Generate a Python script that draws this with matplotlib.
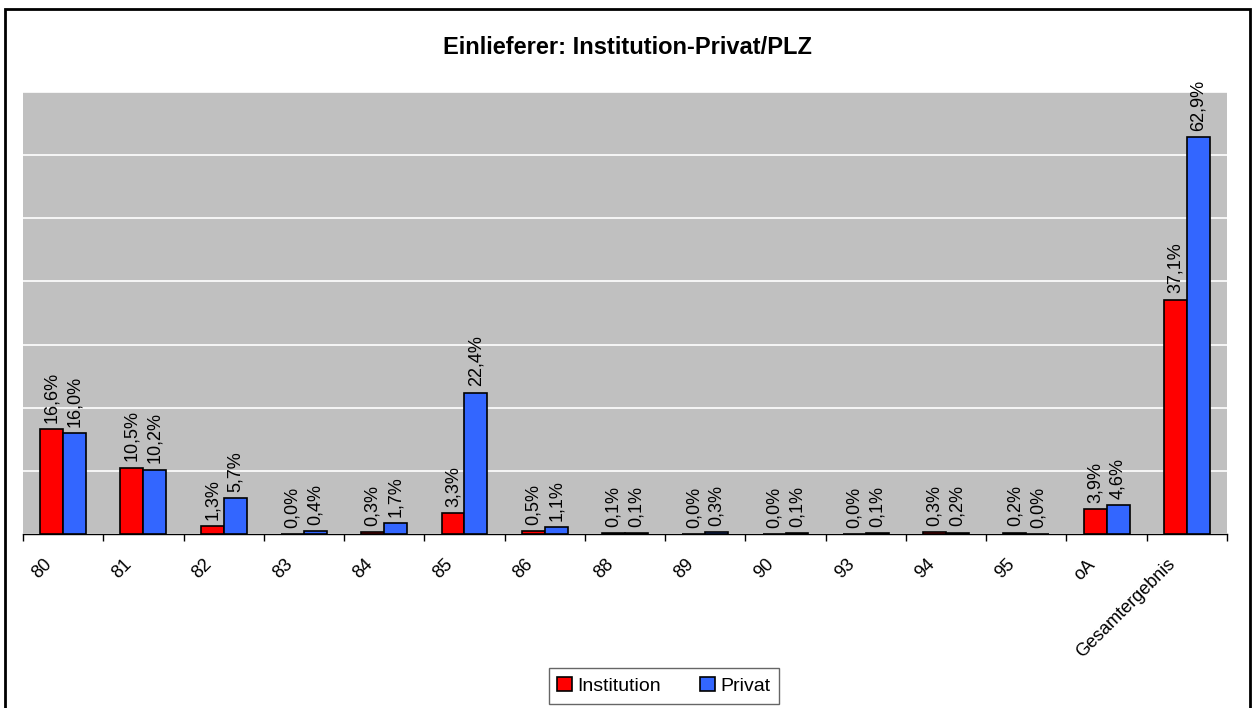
import matplotlib
matplotlib.use("Agg")
import matplotlib.pyplot as plt
from matplotlib.patches import Rectangle
from matplotlib.transforms import ScaledTranslation
import numpy as np

categories = ["80", "81", "82", "83", "84", "85", "86", "88", "89", "90", "93", "94", "95", "oA", "Gesamtergebnis"]
institution = [16.6, 10.5, 1.3, 0.0, 0.3, 3.3, 0.5, 0.1, 0.0, 0.0, 0.0, 0.3, 0.2, 3.9, 37.1]
privat = [16.0, 10.2, 5.7, 0.4, 1.7, 22.4, 1.1, 0.1, 0.3, 0.1, 0.1, 0.2, 0.0, 4.6, 62.9]
series_names = ["Institution", "Privat"]
title = "Einlieferer: Institution-Privat/PLZ"

plt.rcParams['font.family'] = ['Liberation Sans', 'DejaVu Sans']

W, H = 1258, 708
fig = plt.figure(figsize=(W / 100, H / 100), dpi=100)
fig.patch.set_facecolor("white")

ax = fig.add_axes([23 / W, 1 - 534 / H, (1227 - 23) / W, (534 - 92) / H])
ax.set_facecolor("#C0C0C0")

n = len(categories)
x = np.arange(n)
bw = 1 / 3.5
b1 = ax.bar(x - bw / 2, institution, bw, color="#FF0000", edgecolor="black", linewidth=1.2, label=series_names[0], zorder=3)
b2 = ax.bar(x + bw / 2, privat, bw, color="#3366FF", edgecolor="black", linewidth=1.2, label=series_names[1], zorder=3)

for bars, vals in ((b1, institution), (b2, privat)):
    for rect, v in zip(bars, vals):
        ax.annotate(f"{v:.1f}%".replace(".", ","),
                    (rect.get_x() + rect.get_width() / 2, rect.get_height()),
                    xytext=(0, 4.5), textcoords="offset points",
                    rotation=90, ha="center", va="bottom", fontsize=13, color="black", zorder=4)

ax.set_xlim(-0.5, n - 0.5)
ax.set_ylim(0, 70)
ax.set_yticks(np.arange(0, 71, 10))
ax.yaxis.grid(True, color="white", linewidth=1.2, zorder=0)
ax.tick_params(axis="y", left=False, labelleft=False)

ax.set_xticks(np.arange(-0.5, n, 1), minor=True)
ax.set_xticks(x)
ax.set_xticklabels(categories, rotation=45, ha="right", va="center", rotation_mode="anchor", fontsize=13)
ax.tick_params(axis="x", which="major", length=0, pad=20)
ax.tick_params(axis="x", which="minor", length=5, width=1, color="black", direction="out")
for lab in ax.get_xticklabels():
    lab.set_transform(lab.get_transform() + ScaledTranslation(-0.14, 0, fig.dpi_scale_trans))

for s in ("top", "right", "left"):
    ax.spines[s].set_visible(False)
ax.spines["bottom"].set_color("black")
ax.spines["bottom"].set_linewidth(1)

fig.text(627 / W, 1 - 48 / H, title, ha="center", va="center", fontsize=17, fontweight="bold")

leg = fig.legend(handles=[b1, b2], labels=series_names, loc="center", bbox_to_anchor=(664 / W, 1 - 686 / H),
                 ncol=2, fontsize=14, frameon=True, fancybox=False, edgecolor="#404040",
                 handlelength=0.75, handleheight=0.75, handletextpad=0.3, columnspacing=2.0,
                 borderpad=0.45, borderaxespad=0)
leg.get_frame().set_linewidth(1)

fig.patches.append(Rectangle((5 / W, -0.05), (1250 - 5) / W, 1.05 - 9 / H, transform=fig.transFigure,
                             fill=False, edgecolor="black", linewidth=2))

fig.savefig("out.png", dpi=100, facecolor="white")
